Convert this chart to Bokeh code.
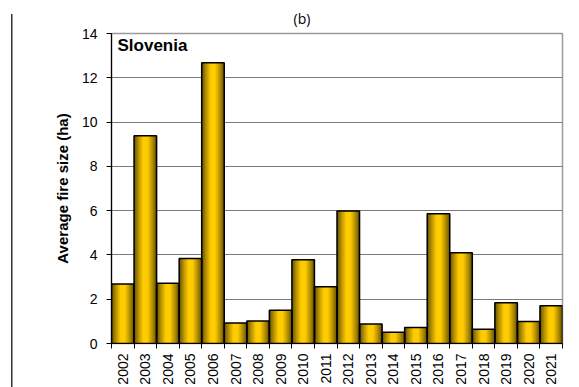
from math import pi
from bokeh.plotting import figure
from bokeh.models import Range1d, FixedTicker, Label, Title
from bokeh.embed import file_html
from bokeh.resources import INLINE

years = list(range(2002, 2022))
avg_fire_size = [2.69, 9.38, 2.72, 3.84, 12.68, 0.93, 1.02, 1.50, 3.78, 2.56,
                 5.98, 0.88, 0.51, 0.72, 5.86, 4.10, 0.64, 1.84, 0.99, 1.70]
y_ticks = [0, 2, 4, 6, 8, 10, 12, 14]
country = "Slovenia"
panel = "(b)"
y_title = "Average fire size (ha)"

W, H = 579, 387
p = figure(width=W, height=H, output_backend="svg", toolbar_location=None,
           x_range=Range1d(years[0] - 0.5, years[-1] + 0.5),
           y_range=Range1d(0, 14),
           min_border_left=111, min_border_right=17,
           min_border_top=32, min_border_bottom=43)
p.background_fill_color = "white"
p.border_fill_color = None
p.outline_line_color = "#9a9a9a"
p.outline_line_width = 1.5
# thin panel border line at the far left of the page (CSS decoration)
p.styles = {
    "background-color": "white",
    "background-image": "linear-gradient(#333333, #333333)",
    "background-size": "1.5px 373px",
    "background-position": "11px 14px",
    "background-repeat": "no-repeat",
}

# gradient-like bars: layered vbars, dark edges -> bright centre
edge = (98, 78, 0)
centre = (255, 204, 0)
n = 12
for k in range(n):
    w = 1.0 - k * (0.78 / (n - 1))
    t = (k / (n - 1)) ** 0.8
    c = tuple(int(edge[i] + (centre[i] - edge[i]) * t) for i in range(3))
    col = "#%02x%02x%02x" % c
    p.vbar(x=years, top=avg_fire_size, bottom=0, width=w,
           fill_color=col, line_color=None)
p.vbar(x=years, top=avg_fire_size, bottom=0, width=1.0,
       fill_color=None, line_color="black", line_width=1.5)

# axes
p.xgrid.visible = False
p.ygrid.grid_line_color = "#7a7a7a"
p.ygrid.grid_line_width = 1
p.ygrid.ticker = FixedTicker(ticks=y_ticks)

ya = p.yaxis[0]
ya.ticker = FixedTicker(ticks=y_ticks)
ya.axis_line_color = "black"
ya.axis_line_width = 1.2
ya.major_tick_in = 0
ya.major_tick_out = 5
ya.minor_tick_out = 0
ya.minor_tick_in = 0
ya.major_tick_line_color = "black"
ya.major_label_text_font = "Liberation Sans"
ya.major_label_text_font_size = "14px"
ya.major_label_text_color = "black"
ya.major_label_standoff = 9
ya.axis_label = y_title
ya.axis_label_text_font = "Liberation Sans"
ya.axis_label_text_font_style = "bold"
ya.axis_label_text_font_size = "15px"
ya.axis_label_text_color = "black"
ya.axis_label_standoff = 8

xa = p.xaxis[0]
xa.ticker = FixedTicker(ticks=years, minor_ticks=[y - 0.5 for y in years] + [years[-1] + 0.5])
xa.major_label_overrides = {y: str(y) for y in years}
xa.axis_line_color = "black"
xa.axis_line_width = 1.2
xa.major_tick_in = 0
xa.major_tick_out = 0
xa.minor_tick_in = 0
xa.minor_tick_out = 5
xa.minor_tick_line_color = "black"
xa.major_label_orientation = pi / 2
xa.major_label_text_font = "Liberation Sans"
xa.major_label_text_font_size = "14px"
xa.major_label_text_color = "black"
xa.major_label_standoff = 5

p.add_layout(Label(x=6, y=308, x_units="screen", y_units="screen", text=country,
                   text_font="Liberation Sans", text_font_style="bold",
                   text_font_size="17px", text_baseline="top", text_color="black"))
p.add_layout(Title(text=panel, align="left", offset=182, standoff=12,
                   text_font="Open Sans", text_font_size="14px",
                   text_font_style="normal", text_color="black"), "above")

open("out.html", "w").write(file_html(p, INLINE))
